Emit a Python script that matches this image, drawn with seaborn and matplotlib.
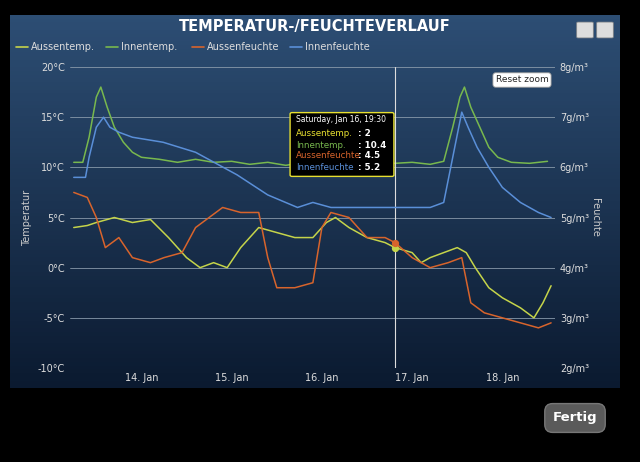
import numpy as np
import pandas as pd
import matplotlib
matplotlib.use('Agg')
from matplotlib import pyplot as plt
import matplotlib.dates as mdates
from matplotlib.patches import FancyBboxPatch
import seaborn as sns
from datetime import datetime, timedelta

sns.set_style('dark')
plt.rcParams['font.family'] = ['DejaVu Sans']

# Tage im Januar 2016 (Bruchteil = Uhrzeit)
innen_t_tag = [13.25, 13.35, 13.42, 13.5, 13.55, 13.62, 13.7, 13.8, 13.9, 14.0, 14.2, 14.4, 14.6, 14.8,
               15.0, 15.2, 15.4, 15.6, 15.8, 16.0, 16.2, 16.4, 16.6, 16.81, 17.0, 17.2, 17.35, 17.45,
               17.53, 17.58, 17.65, 17.75, 17.85, 17.95, 18.1, 18.3, 18.5]
innen_t = [10.5, 10.5, 13, 17, 18, 16, 14, 12.5, 11.5, 11, 10.8, 10.5, 10.8, 10.5,
           10.6, 10.3, 10.5, 10.2, 10.5, 10.4, 10.6, 10.4, 10.5, 10.4, 10.5, 10.3, 10.6, 14,
           17, 18, 16, 14, 12, 11, 10.5, 10.4, 10.6]

innen_f_tag = [13.25, 13.38, 13.42, 13.5, 13.58, 13.65, 13.75, 13.9, 14.24, 14.6, 15.06, 15.4, 15.73,
               15.9, 16.1, 16.3, 16.5, 16.81, 17.0, 17.2, 17.35, 17.45, 17.55, 17.62, 17.72, 17.85,
               18.0, 18.2, 18.4, 18.54]
innen_f = [5.8, 5.8, 6.2, 6.8, 7.0, 6.8, 6.7, 6.6, 6.5, 6.3, 5.85, 5.45, 5.2,
           5.3, 5.2, 5.2, 5.2, 5.2, 5.2, 5.2, 5.3, 6.2, 7.1, 6.8, 6.4, 6.0,
           5.6, 5.3, 5.1, 5.0]

aussen_t_tag = [13.25, 13.4, 13.5, 13.7, 13.9, 14.1, 14.3, 14.5, 14.65, 14.8, 14.95, 15.1, 15.3, 15.5,
                15.7, 15.9, 16.05, 16.15, 16.3, 16.5, 16.7, 16.81, 17.0, 17.1, 17.2, 17.35, 17.5, 17.6,
                17.7, 17.85, 18.0, 18.2, 18.35, 18.45, 18.54]
aussen_t = [4, 4.2, 4.5, 5, 4.5, 4.8, 3, 1, 0, 0.5, 0, 2, 4, 3.5,
            3, 3, 4.5, 5, 4, 3, 2.5, 2, 1.5, 0.5, 1, 1.5, 2, 1.5,
            0, -2, -3, -4, -5, -3.5, -1.8]

aussen_f_tag = [13.25, 13.4, 13.5, 13.6, 13.75, 13.9, 14.1, 14.25, 14.45, 14.6, 14.75, 14.9, 15.1, 15.3,
                15.4, 15.5, 15.7, 15.9, 16.0, 16.1, 16.3, 16.5, 16.7, 16.81, 17.0, 17.2, 17.4, 17.55,
                17.65, 17.8, 18.0, 18.2, 18.4, 18.54]
aussen_f = [5.5, 5.4, 5.0, 4.4, 4.6, 4.2, 4.1, 4.2, 4.3, 4.8, 5.0, 5.2, 5.1, 5.1,
            4.2, 3.6, 3.6, 3.7, 4.8, 5.1, 5.0, 4.6, 4.6, 4.5, 4.2, 4.0, 4.1, 4.2,
            3.3, 3.1, 3.0, 2.9, 2.8, 2.9]


def zeit(tage):
    return [datetime(2016, 1, 1) + timedelta(days=t - 1) for t in tage]


c_aussen_t = '#c5d44a'
c_innen_t = '#78b84e'
c_aussen_f = '#d8642c'
c_innen_f = '#5a8fd8'

fig = plt.figure(figsize=(6.4, 4.62), dpi=100, facecolor='black')
# Panel mit Verlauf
grad = np.linspace(0, 1, 100).reshape(-1, 1)
bg = fig.add_axes([10 / 640, 1 - 388 / 462, 610 / 640, 373 / 462], zorder=0)
bg.imshow(grad, aspect='auto',
          cmap=matplotlib.colors.LinearSegmentedColormap.from_list('g', ['#2d4e74', '#0b1a30']))
bg.set_xticks([])
bg.set_yticks([])
for s in bg.spines.values():
    s.set_visible(False)

ax = fig.add_axes([70 / 640, 1 - 368 / 462, 485 / 640, 301 / 462], zorder=2)
ax.set_facecolor('none')
ax2 = ax.twinx()

sns.lineplot(x=zeit(innen_t_tag), y=innen_t, ax=ax, color=c_innen_t, lw=1.1)
sns.lineplot(x=zeit(aussen_t_tag), y=aussen_t, ax=ax, color=c_aussen_t, lw=1.1)
sns.lineplot(x=zeit(aussen_f_tag), y=aussen_f, ax=ax2, color=c_aussen_f, lw=1.1)
sns.lineplot(x=zeit(innen_f_tag), y=innen_f, ax=ax2, color=c_innen_f, lw=1.1)

ax.set_ylim(-10, 20)
ax2.set_ylim(2, 8)
ax.set_xlim(datetime(2016, 1, 13, 5), datetime(2016, 1, 18, 14))
ax.set_yticks(range(-10, 21, 5))
ax.set_yticklabels([f'{v}°C' for v in range(-10, 21, 5)])
ax2.set_yticks(range(2, 9))
ax2.set_yticklabels([f'{v}g/m³' for v in range(2, 9)])
ax.xaxis.set_major_locator(mdates.DayLocator())
ax.xaxis.set_major_formatter(mdates.DateFormatter('%d. Jan'))
for a in (ax, ax2):
    for s in a.spines.values():
        s.set_visible(False)
    a.tick_params(colors='#dddddd', labelsize=7, length=0)
ax.grid(axis='y', color='#8899aa', lw=0.6)
ax.grid(axis='x', visible=False)
ax2.grid(False)
ax.set_ylabel('Temperatur', color='#cccccc', fontsize=7)
ax2.set_ylabel('Feuchte', color='#cccccc', fontsize=7, rotation=270, labelpad=8)

# Fadenkreuz + Punkte
t_cur = datetime(2016, 1, 16, 19, 30)
ax.axvline(t_cur, color='#dddddd', lw=0.8)
ax.scatter([t_cur], [2], color=c_aussen_t, s=18, zorder=5)
ax2.scatter([t_cur], [4.5], color=c_aussen_f, s=18, zorder=5)

fig.text(315 / 640, 1 - 27 / 462, 'TEMPERATUR-/FEUCHTEVERLAUF', color='white', fontsize=10.5,
         fontweight='bold', ha='center', va='center')

# Legende
x0 = 16
for name, c, w in [('Aussentemp.', c_aussen_t, 90), ('Innentemp.', c_innen_t, 86),
                   ('Aussenfeuchte', c_aussen_f, 98), ('Innenfeuchte', c_innen_f, 90)]:
    fig.add_artist(plt.Line2D([x0 / 640, (x0 + 12) / 640], [1 - 47 / 462] * 2, color=c, lw=1.2))
    fig.text((x0 + 15) / 640, 1 - 47 / 462, name, color='#dddddd', fontsize=7, va='center')
    x0 += w

fig.text(522 / 640, 1 - 80 / 462, 'Reset zoom', fontsize=6.5, ha='center', va='center',
         bbox=dict(boxstyle='round,pad=0.3', fc='white', ec='#999999', lw=0.6))
for bx in (578, 598):
    fig.patches.append(FancyBboxPatch((bx / 640, 1 - 37 / 462), 14 / 640, 14 / 462, boxstyle='round,pad=0.002',
                                      transform=fig.transFigure, fc='#dddddd', ec='#888888', lw=0.5))

# Tooltip
fig.patches.append(FancyBboxPatch((292 / 640, 1 - 175 / 462), 100 / 640, 61 / 462, boxstyle='round,pad=0.003',
                                  transform=fig.transFigure, fc='black', ec='#e8e030', lw=1, zorder=10))
fig.text(296 / 640, 1 - 122 / 462, 'Saturday, Jan 16, 19:30', color='white', fontsize=5.5, zorder=11)
for i, (name, val, c) in enumerate([('Aussentemp.', '2', '#e8e030'), ('Innentemp.', '10.4', c_innen_t),
                                    ('Aussenfeuchte', '4.5', c_aussen_f), ('Innenfeuchte', '5.2', c_innen_f)]):
    y = 1 - (134 + i * 11) / 462
    fig.text(296 / 640, y, name, color=c, fontsize=6.3, zorder=11, va='center')
    fig.text(358 / 640, y, f': {val}', color='white', fontsize=6.3, fontweight='bold', zorder=11, va='center')

fig.text(575 / 640, 1 - 418 / 462, 'Fertig', color='white', fontsize=9.5, fontweight='bold', ha='center',
         va='center', bbox=dict(boxstyle='round,pad=0.6', fc='#5a5a5a', ec='#777777'))

fig.savefig('out.png', dpi=100, facecolor='black')
